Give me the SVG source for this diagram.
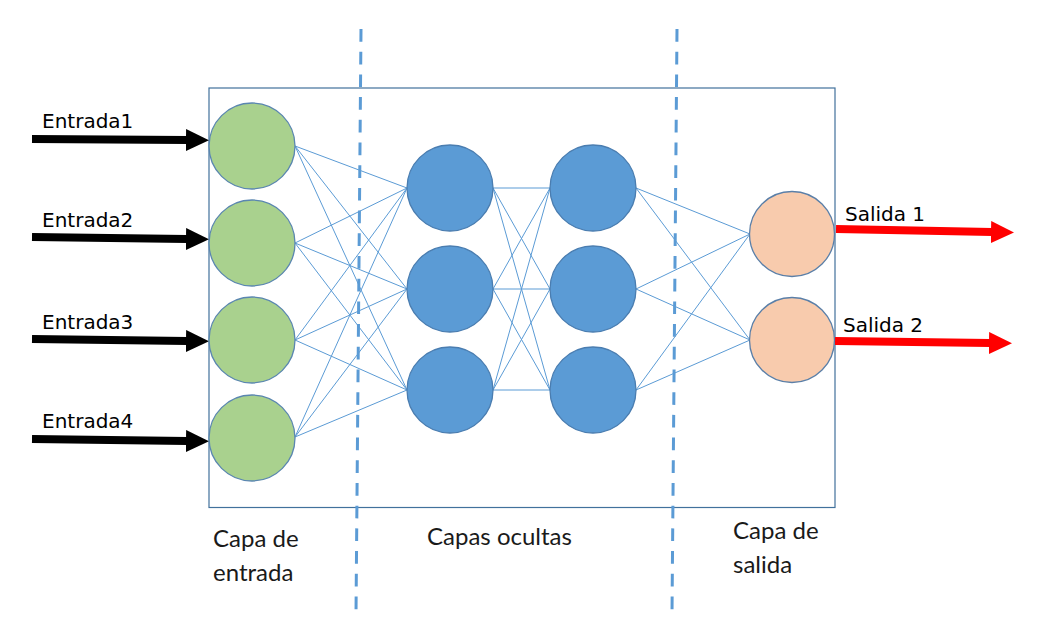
<svg xmlns="http://www.w3.org/2000/svg" width="1039" height="629" viewBox="0 0 1039 629">
<defs>
<style>
.lbl{font-family:"DejaVu Sans",Verdana,sans-serif;font-size:20px;fill:#000}
.cap{font-family:Lato,"Open Sans",sans-serif;font-size:24px;fill:#1a1a1a}
.con line{stroke:#5B9BD5;stroke-width:1;fill:none}
.inp circle{fill:#A9D18E;stroke:#5A86B0;stroke-width:1.3}
.hid circle{fill:#5B9BD5;stroke:#4A7DB0;stroke-width:1.3}
.out circle{fill:#F8CBAD;stroke:#5A7FA8;stroke-width:1.3}
.div{stroke:#5B9BD5;stroke-width:3;stroke-dasharray:12.7 10}
.blk{stroke:#000;stroke-width:8}
.red{stroke:#FF0000;stroke-width:8}
</style>
<marker id="hb" viewBox="0 0 23 22" refX="1" refY="11" markerWidth="23" markerHeight="22" markerUnits="userSpaceOnUse" orient="auto"><path d="M0,0 L23,11 L0,22 z" fill="#000"/></marker>
<marker id="hr" viewBox="0 0 23 22" refX="1" refY="11" markerWidth="23" markerHeight="22" markerUnits="userSpaceOnUse" orient="auto"><path d="M0,0 L23,11 L0,22 z" fill="#FF0000"/></marker>
</defs>
<rect width="1039" height="629" fill="#fff"/>
<g id="frame"><rect x="209" y="88" width="626" height="419.5" fill="none" stroke="#41719C" stroke-width="1.2"/></g>
<g id="dividers">
<line class="div" x1="361" y1="29" x2="356" y2="613"/>
<line class="div" x1="677" y1="29" x2="672" y2="613"/>
</g>
<g id="connectors" class="con">
<line x1="295" y1="146" x2="407" y2="188"/><line x1="295" y1="146" x2="407" y2="289"/><line x1="295" y1="146" x2="407" y2="390"/>
<line x1="295" y1="243" x2="407" y2="188"/><line x1="295" y1="243" x2="407" y2="289"/><line x1="295" y1="243" x2="407" y2="390"/>
<line x1="295" y1="340" x2="407" y2="188"/><line x1="295" y1="340" x2="407" y2="289"/><line x1="295" y1="340" x2="407" y2="390"/>
<line x1="295" y1="437" x2="407" y2="188"/><line x1="295" y1="437" x2="407" y2="289"/><line x1="295" y1="437" x2="407" y2="390"/>
<line x1="493" y1="188" x2="550" y2="188"/><line x1="493" y1="188" x2="550" y2="289"/><line x1="493" y1="188" x2="550" y2="390"/>
<line x1="493" y1="289" x2="550" y2="188"/><line x1="493" y1="289" x2="550" y2="289"/><line x1="493" y1="289" x2="550" y2="390"/>
<line x1="493" y1="390" x2="550" y2="188"/><line x1="493" y1="390" x2="550" y2="289"/><line x1="493" y1="390" x2="550" y2="390"/>
<line x1="636" y1="188" x2="750" y2="234"/><line x1="636" y1="188" x2="750" y2="340"/>
<line x1="636" y1="289" x2="750" y2="234"/><line x1="636" y1="289" x2="750" y2="340"/>
<line x1="636" y1="390" x2="750" y2="234"/><line x1="636" y1="390" x2="750" y2="340"/>
</g>
<g id="arrows">
<line class="blk" x1="32" y1="139" x2="187" y2="140" marker-end="url(#hb)"/>
<line class="blk" x1="32" y1="237" x2="187" y2="239" marker-end="url(#hb)"/>
<line class="blk" x1="32" y1="339" x2="187" y2="341" marker-end="url(#hb)"/>
<line class="blk" x1="32" y1="439" x2="187" y2="441" marker-end="url(#hb)"/>
<line class="red" x1="836" y1="229" x2="992" y2="232" marker-end="url(#hr)"/>
<line class="red" x1="835" y1="341" x2="990" y2="343" marker-end="url(#hr)"/>
</g>
<g id="in1" class="inp"><circle cx="252" cy="146" r="43"/></g>
<g id="in2" class="inp"><circle cx="252" cy="243" r="43"/></g>
<g id="in3" class="inp"><circle cx="252" cy="340" r="43"/></g>
<g id="in4" class="inp"><circle cx="252" cy="438" r="43"/></g>
<g id="h11" class="hid"><circle cx="450" cy="188" r="43"/></g>
<g id="h12" class="hid"><circle cx="450" cy="289" r="43"/></g>
<g id="h13" class="hid"><circle cx="450" cy="390" r="43"/></g>
<g id="h21" class="hid"><circle cx="593" cy="188" r="43"/></g>
<g id="h22" class="hid"><circle cx="593" cy="289" r="43"/></g>
<g id="h23" class="hid"><circle cx="593" cy="390" r="43"/></g>
<g id="o1" class="out"><circle cx="792" cy="234" r="42.5"/></g>
<g id="o2" class="out"><circle cx="792" cy="340" r="42.5"/></g>
<g id="labels">
<text class="lbl" x="42" y="128">Entrada1</text>
<text class="lbl" x="42" y="227">Entrada2</text>
<text class="lbl" x="42" y="329">Entrada3</text>
<text class="lbl" x="42" y="428">Entrada4</text>
<text class="lbl" x="845" y="221">Salida 1</text>
<text class="lbl" x="843" y="332">Salida 2</text>
<text class="cap" x="213" y="547">Capa de</text>
<text class="cap" x="213" y="581">entrada</text>
<text class="cap" x="427" y="545">Capas ocultas</text>
<text class="cap" x="733" y="539">Capa de</text>
<text class="cap" x="733" y="573">salida</text>
</g>
</svg>
